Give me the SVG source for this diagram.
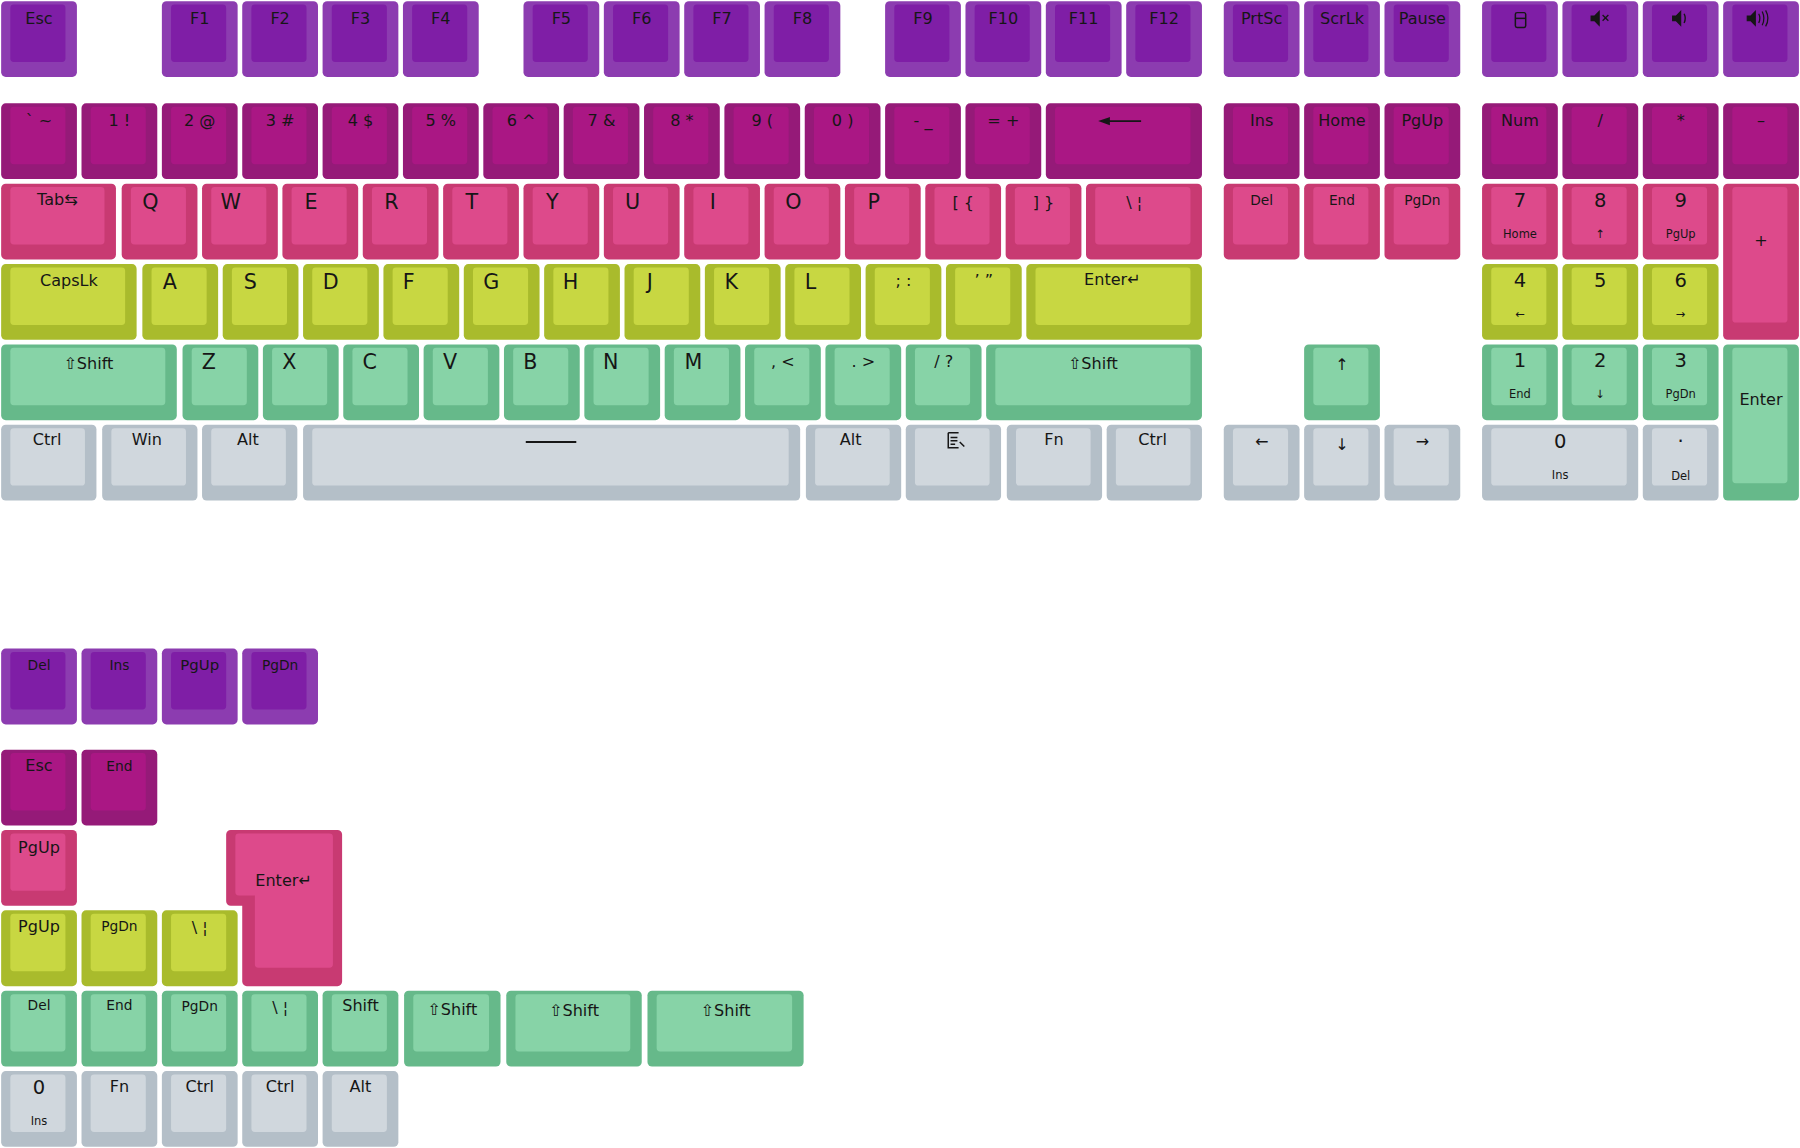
<svg xmlns="http://www.w3.org/2000/svg" width="1800" height="1148" viewBox="0 0 1800 1148">
<style>
.p .o{fill:#8c3cb0}.p .i{fill:#7f1ea6}
.m .o{fill:#951a78}.m .i{fill:#aa1784}
.k .o{fill:#c83a72}.k .i{fill:#dd4a8b}
.y .o{fill:#a9bb2c}.y .i{fill:#c8d742}
.g .o{fill:#66b98a}.g .i{fill:#87d3a7}
.s .o{fill:#b4bfc8}.s .i{fill:#d0d7dd}
text{font-family:"DejaVu Sans","Liberation Sans",sans-serif;fill:#161616;text-anchor:middle}
.t{font-size:14px}.L{font-size:18px}.n{font-size:17px}.u{font-size:10px}
.ic{fill:#161616;stroke:#161616}
.ln{fill:none;stroke:#161616}
</style>
<rect width="1800" height="1148" fill="#fff"/>
<g transform="scale(1.148)">
<g id="keys">
<g id="k-esc" class="p"><rect class="o" x="1" y="1" width="66" height="66" rx="4"/><rect class="i" x="9" y="4" width="48" height="50" rx="3"/><text class="t" x="34" y="21">Esc</text></g>
<g id="k-f1" class="p"><rect class="o" x="141" y="1" width="66" height="66" rx="4"/><rect class="i" x="149" y="4" width="48" height="50" rx="3"/><text class="t" x="174" y="21">F1</text></g>
<g id="k-f2" class="p"><rect class="o" x="211" y="1" width="66" height="66" rx="4"/><rect class="i" x="219" y="4" width="48" height="50" rx="3"/><text class="t" x="244" y="21">F2</text></g>
<g id="k-f3" class="p"><rect class="o" x="281" y="1" width="66" height="66" rx="4"/><rect class="i" x="289" y="4" width="48" height="50" rx="3"/><text class="t" x="314" y="21">F3</text></g>
<g id="k-f4" class="p"><rect class="o" x="351" y="1" width="66" height="66" rx="4"/><rect class="i" x="359" y="4" width="48" height="50" rx="3"/><text class="t" x="384" y="21">F4</text></g>
<g id="k-f5" class="p"><rect class="o" x="456" y="1" width="66" height="66" rx="4"/><rect class="i" x="464" y="4" width="48" height="50" rx="3"/><text class="t" x="489" y="21">F5</text></g>
<g id="k-f6" class="p"><rect class="o" x="526" y="1" width="66" height="66" rx="4"/><rect class="i" x="534" y="4" width="48" height="50" rx="3"/><text class="t" x="559" y="21">F6</text></g>
<g id="k-f7" class="p"><rect class="o" x="596" y="1" width="66" height="66" rx="4"/><rect class="i" x="604" y="4" width="48" height="50" rx="3"/><text class="t" x="629" y="21">F7</text></g>
<g id="k-f8" class="p"><rect class="o" x="666" y="1" width="66" height="66" rx="4"/><rect class="i" x="674" y="4" width="48" height="50" rx="3"/><text class="t" x="699" y="21">F8</text></g>
<g id="k-f9" class="p"><rect class="o" x="771" y="1" width="66" height="66" rx="4"/><rect class="i" x="779" y="4" width="48" height="50" rx="3"/><text class="t" x="804" y="21">F9</text></g>
<g id="k-f10" class="p"><rect class="o" x="841" y="1" width="66" height="66" rx="4"/><rect class="i" x="849" y="4" width="48" height="50" rx="3"/><text class="t" x="874" y="21">F10</text></g>
<g id="k-f11" class="p"><rect class="o" x="911" y="1" width="66" height="66" rx="4"/><rect class="i" x="919" y="4" width="48" height="50" rx="3"/><text class="t" x="944" y="21">F11</text></g>
<g id="k-f12" class="p"><rect class="o" x="981" y="1" width="66" height="66" rx="4"/><rect class="i" x="989" y="4" width="48" height="50" rx="3"/><text class="t" x="1014" y="21">F12</text></g>
<g id="k-prtsc" class="p"><rect class="o" x="1066" y="1" width="66" height="66" rx="4"/><rect class="i" x="1074" y="4" width="48" height="50" rx="3"/><text class="t" x="1099" y="21">PrtSc</text></g>
<g id="k-scrlk" class="p"><rect class="o" x="1136" y="1" width="66" height="66" rx="4"/><rect class="i" x="1144" y="4" width="48" height="50" rx="3"/><text class="t" x="1169" y="21">ScrLk</text></g>
<g id="k-pause" class="p"><rect class="o" x="1206" y="1" width="66" height="66" rx="4"/><rect class="i" x="1214" y="4" width="48" height="50" rx="3"/><text class="t" x="1239" y="21">Pause</text></g>
<g id="k-calc" class="p"><rect class="o" x="1291" y="1" width="66" height="66" rx="4"/><rect class="i" x="1299" y="4" width="48" height="50" rx="3"/><rect class="ln" x="1320" y="11" width="9" height="13" rx="1.5" stroke-width="1.3"/><line class="ln" x1="1320" y1="16" x2="1329" y2="16" stroke-width="1.3"/></g>
<g id="k-mute" class="p"><rect class="o" x="1361" y="1" width="66" height="66" rx="4"/><rect class="i" x="1369" y="4" width="48" height="50" rx="3"/><path class="ic" d="M1386 14h3l4-4v12l-4-4h-3z" stroke="none"/><path class="ln" d="M1396 13l5 5M1401 13l-5 5" stroke-width="1.2"/></g>
<g id="k-vold" class="p"><rect class="o" x="1431" y="1" width="66" height="66" rx="4"/><rect class="i" x="1439" y="4" width="48" height="50" rx="3"/><path class="ic" d="M1457 14h3l4-4v12l-4-4h-3z" stroke="none"/><path class="ln" d="M1467 12q2 4 0 8" stroke-width="1.2"/></g>
<g id="k-volu" class="p"><rect class="o" x="1501" y="1" width="66" height="66" rx="4"/><rect class="i" x="1509" y="4" width="48" height="50" rx="3"/><path class="ic" d="M1522 14h3l4-4v12l-4-4h-3z" stroke="none"/><path class="ln" d="M1532 12q2 4 0 8M1535 10q3 6 0 12M1538 9q4 7 0 14" stroke-width="1.1"/></g>
<g id="k-grave" class="m"><rect class="o" x="1" y="90" width="66" height="66" rx="4"/><rect class="i" x="9" y="93" width="48" height="50" rx="3"/><text class="t" x="34" y="110">` ~</text></g>
<g id="k-1" class="m"><rect class="o" x="71" y="90" width="66" height="66" rx="4"/><rect class="i" x="79" y="93" width="48" height="50" rx="3"/><text class="t" x="104" y="110">1 !</text></g>
<g id="k-2" class="m"><rect class="o" x="141" y="90" width="66" height="66" rx="4"/><rect class="i" x="149" y="93" width="48" height="50" rx="3"/><text class="t" x="174" y="110">2 @</text></g>
<g id="k-3" class="m"><rect class="o" x="211" y="90" width="66" height="66" rx="4"/><rect class="i" x="219" y="93" width="48" height="50" rx="3"/><text class="t" x="244" y="110">3 #</text></g>
<g id="k-4" class="m"><rect class="o" x="281" y="90" width="66" height="66" rx="4"/><rect class="i" x="289" y="93" width="48" height="50" rx="3"/><text class="t" x="314" y="110">4 $</text></g>
<g id="k-5" class="m"><rect class="o" x="351" y="90" width="66" height="66" rx="4"/><rect class="i" x="359" y="93" width="48" height="50" rx="3"/><text class="t" x="384" y="110">5 %</text></g>
<g id="k-6" class="m"><rect class="o" x="421" y="90" width="66" height="66" rx="4"/><rect class="i" x="429" y="93" width="48" height="50" rx="3"/><text class="t" x="454" y="110">6 ^</text></g>
<g id="k-7" class="m"><rect class="o" x="491" y="90" width="66" height="66" rx="4"/><rect class="i" x="499" y="93" width="48" height="50" rx="3"/><text class="t" x="524" y="110">7 &amp;</text></g>
<g id="k-8" class="m"><rect class="o" x="561" y="90" width="66" height="66" rx="4"/><rect class="i" x="569" y="93" width="48" height="50" rx="3"/><text class="t" x="594" y="110">8 *</text></g>
<g id="k-9" class="m"><rect class="o" x="631" y="90" width="66" height="66" rx="4"/><rect class="i" x="639" y="93" width="48" height="50" rx="3"/><text class="t" x="664" y="110">9 (</text></g>
<g id="k-0" class="m"><rect class="o" x="701" y="90" width="66" height="66" rx="4"/><rect class="i" x="709" y="93" width="48" height="50" rx="3"/><text class="t" x="734" y="110">0 )</text></g>
<g id="k-minus" class="m"><rect class="o" x="771" y="90" width="66" height="66" rx="4"/><rect class="i" x="779" y="93" width="48" height="50" rx="3"/><text class="t" x="804" y="110">- _</text></g>
<g id="k-eq" class="m"><rect class="o" x="841" y="90" width="66" height="66" rx="4"/><rect class="i" x="849" y="93" width="48" height="50" rx="3"/><text class="t" x="874" y="110">= +</text></g>
<g id="k-bksp" class="m"><rect class="o" x="911" y="90" width="136" height="66" rx="4"/><rect class="i" x="919" y="93" width="118" height="50" rx="3"/><path class="ic" d="M966 103l-7 2.5 7 2.5zM964 105.5h30" stroke-width="1.6"/></g>
<g id="k-ins" class="m"><rect class="o" x="1066" y="90" width="66" height="66" rx="4"/><rect class="i" x="1074" y="93" width="48" height="50" rx="3"/><text class="t" x="1099" y="110">Ins</text></g>
<g id="k-home" class="m"><rect class="o" x="1136" y="90" width="66" height="66" rx="4"/><rect class="i" x="1144" y="93" width="48" height="50" rx="3"/><text class="t" x="1169" y="110">Home</text></g>
<g id="k-pgup" class="m"><rect class="o" x="1206" y="90" width="66" height="66" rx="4"/><rect class="i" x="1214" y="93" width="48" height="50" rx="3"/><text class="t" x="1239" y="110">PgUp</text></g>
<g id="k-num" class="m"><rect class="o" x="1291" y="90" width="66" height="66" rx="4"/><rect class="i" x="1299" y="93" width="48" height="50" rx="3"/><text class="t" x="1324" y="110">Num</text></g>
<g id="k-div" class="m"><rect class="o" x="1361" y="90" width="66" height="66" rx="4"/><rect class="i" x="1369" y="93" width="48" height="50" rx="3"/><text class="t" x="1394" y="110">/</text></g>
<g id="k-mul" class="m"><rect class="o" x="1431" y="90" width="66" height="66" rx="4"/><rect class="i" x="1439" y="93" width="48" height="50" rx="3"/><text class="t" x="1464" y="110">*</text></g>
<g id="k-sub" class="m"><rect class="o" x="1501" y="90" width="66" height="66" rx="4"/><rect class="i" x="1509" y="93" width="48" height="50" rx="3"/><text class="t" x="1534" y="110">–</text></g>
<g id="k-tab" class="k"><rect class="o" x="1" y="160" width="100" height="66" rx="4"/><rect class="i" x="9" y="163" width="82" height="50" rx="3"/><text class="t" x="50" y="179">Tab⇆</text></g>
<g id="k-q" class="k"><rect class="o" x="106" y="160" width="66" height="66" rx="4"/><rect class="i" x="114" y="163" width="48" height="50" rx="3"/><text class="L" x="131" y="182">Q</text></g>
<g id="k-w" class="k"><rect class="o" x="176" y="160" width="66" height="66" rx="4"/><rect class="i" x="184" y="163" width="48" height="50" rx="3"/><text class="L" x="201" y="182">W</text></g>
<g id="k-e" class="k"><rect class="o" x="246" y="160" width="66" height="66" rx="4"/><rect class="i" x="254" y="163" width="48" height="50" rx="3"/><text class="L" x="271" y="182">E</text></g>
<g id="k-r" class="k"><rect class="o" x="316" y="160" width="66" height="66" rx="4"/><rect class="i" x="324" y="163" width="48" height="50" rx="3"/><text class="L" x="341" y="182">R</text></g>
<g id="k-t" class="k"><rect class="o" x="386" y="160" width="66" height="66" rx="4"/><rect class="i" x="394" y="163" width="48" height="50" rx="3"/><text class="L" x="411" y="182">T</text></g>
<g id="k-y" class="k"><rect class="o" x="456" y="160" width="66" height="66" rx="4"/><rect class="i" x="464" y="163" width="48" height="50" rx="3"/><text class="L" x="481" y="182">Y</text></g>
<g id="k-u" class="k"><rect class="o" x="526" y="160" width="66" height="66" rx="4"/><rect class="i" x="534" y="163" width="48" height="50" rx="3"/><text class="L" x="551" y="182">U</text></g>
<g id="k-i" class="k"><rect class="o" x="596" y="160" width="66" height="66" rx="4"/><rect class="i" x="604" y="163" width="48" height="50" rx="3"/><text class="L" x="621" y="182">I</text></g>
<g id="k-o" class="k"><rect class="o" x="666" y="160" width="66" height="66" rx="4"/><rect class="i" x="674" y="163" width="48" height="50" rx="3"/><text class="L" x="691" y="182">O</text></g>
<g id="k-p" class="k"><rect class="o" x="736" y="160" width="66" height="66" rx="4"/><rect class="i" x="744" y="163" width="48" height="50" rx="3"/><text class="L" x="761" y="182">P</text></g>
<g id="k-lb" class="k"><rect class="o" x="806" y="160" width="66" height="66" rx="4"/><rect class="i" x="814" y="163" width="48" height="50" rx="3"/><text class="t" x="839" y="181">[ {</text></g>
<g id="k-rb" class="k"><rect class="o" x="876" y="160" width="66" height="66" rx="4"/><rect class="i" x="884" y="163" width="48" height="50" rx="3"/><text class="t" x="909" y="181">] }</text></g>
<g id="k-bsl" class="k"><rect class="o" x="946" y="160" width="101" height="66" rx="4"/><rect class="i" x="954" y="163" width="83" height="50" rx="3"/><text class="t" x="988" y="181">\ ¦</text></g>
<g id="k-del" class="k"><rect class="o" x="1066" y="160" width="66" height="66" rx="4"/><rect class="i" x="1074" y="163" width="48" height="50" rx="3"/><text class="t" x="1099" y="179" style="font-size:12px">Del</text></g>
<g id="k-end" class="k"><rect class="o" x="1136" y="160" width="66" height="66" rx="4"/><rect class="i" x="1144" y="163" width="48" height="50" rx="3"/><text class="t" x="1169" y="179" style="font-size:12px">End</text></g>
<g id="k-pgdn" class="k"><rect class="o" x="1206" y="160" width="66" height="66" rx="4"/><rect class="i" x="1214" y="163" width="48" height="50" rx="3"/><text class="t" x="1239" y="179" style="font-size:12px">PgDn</text></g>
<g id="k-n7" class="k"><rect class="o" x="1291" y="160" width="66" height="66" rx="4"/><rect class="i" x="1299" y="163" width="48" height="50" rx="3"/><text class="n" x="1324" y="180">7</text><text class="u" x="1324" y="207">Home</text></g>
<g id="k-n8" class="k"><rect class="o" x="1361" y="160" width="66" height="66" rx="4"/><rect class="i" x="1369" y="163" width="48" height="50" rx="3"/><text class="n" x="1394" y="180">8</text><text class="u" x="1394" y="207">↑</text></g>
<g id="k-n9" class="k"><rect class="o" x="1431" y="160" width="66" height="66" rx="4"/><rect class="i" x="1439" y="163" width="48" height="50" rx="3"/><text class="n" x="1464" y="180">9</text><text class="u" x="1464" y="207">PgUp</text></g>
<g id="k-plus" class="k"><rect class="o" x="1501" y="160" width="66" height="136" rx="4"/><rect class="i" x="1509" y="163" width="48" height="118" rx="3"/><text class="t" x="1534" y="214">+</text></g>
<g id="k-caps" class="y"><rect class="o" x="1" y="230" width="118" height="66" rx="4"/><rect class="i" x="9" y="233" width="100" height="50" rx="3"/><text class="t" x="60" y="249">CapsLk</text></g>
<g id="k-a" class="y"><rect class="o" x="124" y="230" width="66" height="66" rx="4"/><rect class="i" x="132" y="233" width="48" height="50" rx="3"/><text class="L" x="148" y="252">A</text></g>
<g id="k-s" class="y"><rect class="o" x="194" y="230" width="66" height="66" rx="4"/><rect class="i" x="202" y="233" width="48" height="50" rx="3"/><text class="L" x="218" y="252">S</text></g>
<g id="k-d" class="y"><rect class="o" x="264" y="230" width="66" height="66" rx="4"/><rect class="i" x="272" y="233" width="48" height="50" rx="3"/><text class="L" x="288" y="252">D</text></g>
<g id="k-f" class="y"><rect class="o" x="334" y="230" width="66" height="66" rx="4"/><rect class="i" x="342" y="233" width="48" height="50" rx="3"/><text class="L" x="356" y="252">F</text></g>
<g id="k-g" class="y"><rect class="o" x="404" y="230" width="66" height="66" rx="4"/><rect class="i" x="412" y="233" width="48" height="50" rx="3"/><text class="L" x="428" y="252">G</text></g>
<g id="k-h" class="y"><rect class="o" x="474" y="230" width="66" height="66" rx="4"/><rect class="i" x="482" y="233" width="48" height="50" rx="3"/><text class="L" x="497" y="252">H</text></g>
<g id="k-j" class="y"><rect class="o" x="544" y="230" width="66" height="66" rx="4"/><rect class="i" x="552" y="233" width="48" height="50" rx="3"/><text class="L" x="566" y="252">J</text></g>
<g id="k-k" class="y"><rect class="o" x="614" y="230" width="66" height="66" rx="4"/><rect class="i" x="622" y="233" width="48" height="50" rx="3"/><text class="L" x="637" y="252">K</text></g>
<g id="k-l" class="y"><rect class="o" x="684" y="230" width="66" height="66" rx="4"/><rect class="i" x="692" y="233" width="48" height="50" rx="3"/><text class="L" x="706" y="252">L</text></g>
<g id="k-semi" class="y"><rect class="o" x="754" y="230" width="66" height="66" rx="4"/><rect class="i" x="762" y="233" width="48" height="50" rx="3"/><text class="t" x="787" y="249">; :</text></g>
<g id="k-quote" class="y"><rect class="o" x="824" y="230" width="66" height="66" rx="4"/><rect class="i" x="832" y="233" width="48" height="50" rx="3"/><text class="t" x="857" y="249">’ ”</text></g>
<g id="k-enter" class="y"><rect class="o" x="894" y="230" width="153" height="66" rx="4"/><rect class="i" x="902" y="233" width="135" height="50" rx="3"/><text class="t" x="969" y="248">Enter↵</text></g>
<g id="k-n4" class="y"><rect class="o" x="1291" y="230" width="66" height="66" rx="4"/><rect class="i" x="1299" y="233" width="48" height="50" rx="3"/><text class="n" x="1324" y="250">4</text><text class="u" x="1324" y="277">←</text></g>
<g id="k-n5" class="y"><rect class="o" x="1361" y="230" width="66" height="66" rx="4"/><rect class="i" x="1369" y="233" width="48" height="50" rx="3"/><text class="n" x="1394" y="250">5</text></g>
<g id="k-n6" class="y"><rect class="o" x="1431" y="230" width="66" height="66" rx="4"/><rect class="i" x="1439" y="233" width="48" height="50" rx="3"/><text class="n" x="1464" y="250">6</text><text class="u" x="1464" y="277">→</text></g>
<g id="k-lshift" class="g"><rect class="o" x="1" y="300" width="153" height="66" rx="4"/><rect class="i" x="9" y="303" width="135" height="50" rx="3"/><text class="t" x="77" y="321">⇧Shift</text></g>
<g id="k-z" class="g"><rect class="o" x="159" y="300" width="66" height="66" rx="4"/><rect class="i" x="167" y="303" width="48" height="50" rx="3"/><text class="L" x="182" y="321">Z</text></g>
<g id="k-x" class="g"><rect class="o" x="229" y="300" width="66" height="66" rx="4"/><rect class="i" x="237" y="303" width="48" height="50" rx="3"/><text class="L" x="252" y="321">X</text></g>
<g id="k-c" class="g"><rect class="o" x="299" y="300" width="66" height="66" rx="4"/><rect class="i" x="307" y="303" width="48" height="50" rx="3"/><text class="L" x="322" y="321">C</text></g>
<g id="k-v" class="g"><rect class="o" x="369" y="300" width="66" height="66" rx="4"/><rect class="i" x="377" y="303" width="48" height="50" rx="3"/><text class="L" x="392" y="321">V</text></g>
<g id="k-b" class="g"><rect class="o" x="439" y="300" width="66" height="66" rx="4"/><rect class="i" x="447" y="303" width="48" height="50" rx="3"/><text class="L" x="462" y="321">B</text></g>
<g id="k-n" class="g"><rect class="o" x="509" y="300" width="66" height="66" rx="4"/><rect class="i" x="517" y="303" width="48" height="50" rx="3"/><text class="L" x="532" y="321">N</text></g>
<g id="k-m" class="g"><rect class="o" x="579" y="300" width="66" height="66" rx="4"/><rect class="i" x="587" y="303" width="48" height="50" rx="3"/><text class="L" x="604" y="321">M</text></g>
<g id="k-comma" class="g"><rect class="o" x="649" y="300" width="66" height="66" rx="4"/><rect class="i" x="657" y="303" width="48" height="50" rx="3"/><text class="t" x="682" y="320">, &lt;</text></g>
<g id="k-dot" class="g"><rect class="o" x="719" y="300" width="66" height="66" rx="4"/><rect class="i" x="727" y="303" width="48" height="50" rx="3"/><text class="t" x="752" y="320">. &gt;</text></g>
<g id="k-slash" class="g"><rect class="o" x="789" y="300" width="66" height="66" rx="4"/><rect class="i" x="797" y="303" width="48" height="50" rx="3"/><text class="t" x="822" y="320">/ ?</text></g>
<g id="k-rshift" class="g"><rect class="o" x="859" y="300" width="188" height="66" rx="4"/><rect class="i" x="867" y="303" width="170" height="50" rx="3"/><text class="t" x="952" y="321">⇧Shift</text></g>
<g id="k-up" class="g"><rect class="o" x="1136" y="300" width="66" height="66" rx="4"/><rect class="i" x="1144" y="303" width="48" height="50" rx="3"/><text class="t" x="1169" y="322">↑</text></g>
<g id="k-n1" class="g"><rect class="o" x="1291" y="300" width="66" height="66" rx="4"/><rect class="i" x="1299" y="303" width="48" height="50" rx="3"/><text class="n" x="1324" y="320">1</text><text class="u" x="1324" y="347">End</text></g>
<g id="k-n2" class="g"><rect class="o" x="1361" y="300" width="66" height="66" rx="4"/><rect class="i" x="1369" y="303" width="48" height="50" rx="3"/><text class="n" x="1394" y="320">2</text><text class="u" x="1394" y="347">↓</text></g>
<g id="k-n3" class="g"><rect class="o" x="1431" y="300" width="66" height="66" rx="4"/><rect class="i" x="1439" y="303" width="48" height="50" rx="3"/><text class="n" x="1464" y="320">3</text><text class="u" x="1464" y="347">PgDn</text></g>
<g id="k-nenter" class="g"><rect class="o" x="1501" y="300" width="66" height="136" rx="4"/><rect class="i" x="1509" y="303" width="48" height="118" rx="3"/><text class="t" x="1534" y="353">Enter</text></g>
<g id="k-lctrl" class="s"><rect class="o" x="1" y="370" width="83" height="66" rx="4"/><rect class="i" x="9" y="373" width="65" height="50" rx="3"/><text class="t" x="41" y="388">Ctrl</text></g>
<g id="k-win" class="s"><rect class="o" x="89" y="370" width="83" height="66" rx="4"/><rect class="i" x="97" y="373" width="65" height="50" rx="3"/><text class="t" x="128" y="388">Win</text></g>
<g id="k-lalt" class="s"><rect class="o" x="176" y="370" width="83" height="66" rx="4"/><rect class="i" x="184" y="373" width="65" height="50" rx="3"/><text class="t" x="216" y="388">Alt</text></g>
<g id="k-space" class="s"><rect class="o" x="264" y="370" width="433" height="66" rx="4"/><rect class="i" x="272" y="373" width="415" height="50" rx="3"/><line class="ln" x1="458" y1="385" x2="502" y2="385" stroke-width="1.6"/></g>
<g id="k-ralt" class="s"><rect class="o" x="702" y="370" width="83" height="66" rx="4"/><rect class="i" x="710" y="373" width="65" height="50" rx="3"/><text class="t" x="741" y="388">Alt</text></g>
<g id="k-menu" class="s"><rect class="o" x="789" y="370" width="83" height="66" rx="4"/><rect class="i" x="797" y="373" width="65" height="50" rx="3"/><path class="ln" d="M826 377v13h9M826 377h9M828 381h6M828 384h6M828 387h4M836 385l4 4" stroke-width="1.3"/></g>
<g id="k-fn" class="s"><rect class="o" x="877" y="370" width="83" height="66" rx="4"/><rect class="i" x="885" y="373" width="65" height="50" rx="3"/><text class="t" x="918" y="388">Fn</text></g>
<g id="k-rctrl" class="s"><rect class="o" x="964" y="370" width="83" height="66" rx="4"/><rect class="i" x="972" y="373" width="65" height="50" rx="3"/><text class="t" x="1004" y="388">Ctrl</text></g>
<g id="k-left" class="s"><rect class="o" x="1066" y="370" width="66" height="66" rx="4"/><rect class="i" x="1074" y="373" width="48" height="50" rx="3"/><text class="t" x="1099" y="389">←</text></g>
<g id="k-down" class="s"><rect class="o" x="1136" y="370" width="66" height="66" rx="4"/><rect class="i" x="1144" y="373" width="48" height="50" rx="3"/><text class="t" x="1169" y="392">↓</text></g>
<g id="k-right" class="s"><rect class="o" x="1206" y="370" width="66" height="66" rx="4"/><rect class="i" x="1214" y="373" width="48" height="50" rx="3"/><text class="t" x="1239" y="389">→</text></g>
<g id="k-n0" class="s"><rect class="o" x="1291" y="370" width="136" height="66" rx="4"/><rect class="i" x="1299" y="373" width="118" height="50" rx="3"/><text class="n" x="1359" y="390">0</text><text class="u" x="1359" y="417">Ins</text></g>
<g id="k-ndot" class="s"><rect class="o" x="1431" y="370" width="66" height="66" rx="4"/><rect class="i" x="1439" y="373" width="48" height="50" rx="3"/><text class="n" x="1464" y="390">·</text><text class="u" x="1464" y="418">Del</text></g>
<g id="x-del" class="p"><rect class="o" x="1" y="565" width="66" height="66" rx="4"/><rect class="i" x="9" y="568" width="48" height="50" rx="3"/><text class="t" x="34" y="584" style="font-size:12px">Del</text></g>
<g id="x-ins" class="p"><rect class="o" x="71" y="565" width="66" height="66" rx="4"/><rect class="i" x="79" y="568" width="48" height="50" rx="3"/><text class="t" x="104" y="584" style="font-size:12px">Ins</text></g>
<g id="x-pgup" class="p"><rect class="o" x="141" y="565" width="66" height="66" rx="4"/><rect class="i" x="149" y="568" width="48" height="50" rx="3"/><text class="t" x="174" y="584" style="font-size:13px">PgUp</text></g>
<g id="x-pgdn" class="p"><rect class="o" x="211" y="565" width="66" height="66" rx="4"/><rect class="i" x="219" y="568" width="48" height="50" rx="3"/><text class="t" x="244" y="584" style="font-size:12px">PgDn</text></g>
<g id="x-esc" class="m"><rect class="o" x="1" y="653" width="66" height="66" rx="4"/><rect class="i" x="9" y="656" width="48" height="50" rx="3"/><text class="t" x="34" y="672">Esc</text></g>
<g id="x-end" class="m"><rect class="o" x="71" y="653" width="66" height="66" rx="4"/><rect class="i" x="79" y="656" width="48" height="50" rx="3"/><text class="t" x="104" y="672" style="font-size:12px">End</text></g>
<g id="x-pgup2" class="k"><rect class="o" x="1" y="723" width="66" height="66" rx="4"/><rect class="i" x="9" y="726" width="48" height="50" rx="3"/><text class="t" x="34" y="743">PgUp</text></g>
<g id="x-isoenter" class="k"><path class="o" d="M201 723h93a4 4 0 0 1 4 4v128a4 4 0 0 1-4 4h-79a4 4 0 0 1-4-4v-66h-10a4 4 0 0 1-4-4v-58a4 4 0 0 1 4-4z"/><path class="i" d="M208 726h79a3 3 0 0 1 3 3v111a3 3 0 0 1-3 3h-62a3 3 0 0 1-3-3v-60h-14a3 3 0 0 1-3-3v-48a3 3 0 0 1 3-3z"/><text class="t" x="247" y="772">Enter↵</text></g>
<g id="x-pgup3" class="y"><rect class="o" x="1" y="793" width="66" height="66" rx="4"/><rect class="i" x="9" y="796" width="48" height="50" rx="3"/><text class="t" x="34" y="812">PgUp</text></g>
<g id="x-pgdn3" class="y"><rect class="o" x="71" y="793" width="66" height="66" rx="4"/><rect class="i" x="79" y="796" width="48" height="50" rx="3"/><text class="t" x="104" y="811" style="font-size:12px">PgDn</text></g>
<g id="x-bsl3" class="y"><rect class="o" x="141" y="793" width="66" height="66" rx="4"/><rect class="i" x="149" y="796" width="48" height="50" rx="3"/><text class="t" x="174" y="813">\ ¦</text></g>
<g id="x-del4" class="g"><rect class="o" x="1" y="863" width="66" height="66" rx="4"/><rect class="i" x="9" y="866" width="48" height="50" rx="3"/><text class="t" x="34" y="880" style="font-size:12px">Del</text></g>
<g id="x-end4" class="g"><rect class="o" x="71" y="863" width="66" height="66" rx="4"/><rect class="i" x="79" y="866" width="48" height="50" rx="3"/><text class="t" x="104" y="880" style="font-size:12px">End</text></g>
<g id="x-pgdn4" class="g"><rect class="o" x="141" y="863" width="66" height="66" rx="4"/><rect class="i" x="149" y="866" width="48" height="50" rx="3"/><text class="t" x="174" y="881" style="font-size:12px">PgDn</text></g>
<g id="x-bsl4" class="g"><rect class="o" x="211" y="863" width="66" height="66" rx="4"/><rect class="i" x="219" y="866" width="48" height="50" rx="3"/><text class="t" x="244" y="882">\ ¦</text></g>
<g id="x-shift1" class="g"><rect class="o" x="281" y="863" width="66" height="66" rx="4"/><rect class="i" x="289" y="866" width="48" height="50" rx="3"/><text class="t" x="314" y="881">Shift</text></g>
<g id="x-shift2" class="g"><rect class="o" x="352" y="863" width="84" height="66" rx="4"/><rect class="i" x="360" y="866" width="66" height="50" rx="3"/><text class="t" x="394" y="884">⇧Shift</text></g>
<g id="x-shift3" class="g"><rect class="o" x="441" y="863" width="118" height="66" rx="4"/><rect class="i" x="449" y="866" width="100" height="50" rx="3"/><text class="t" x="500" y="885">⇧Shift</text></g>
<g id="x-shift4" class="g"><rect class="o" x="564" y="863" width="136" height="66" rx="4"/><rect class="i" x="572" y="866" width="118" height="50" rx="3"/><text class="t" x="632" y="885">⇧Shift</text></g>
<g id="x-n0" class="s"><rect class="o" x="1" y="933" width="66" height="66" rx="4"/><rect class="i" x="9" y="936" width="48" height="50" rx="3"/><text class="n" x="34" y="953">0</text><text class="u" x="34" y="980">Ins</text></g>
<g id="x-fn" class="s"><rect class="o" x="71" y="933" width="66" height="66" rx="4"/><rect class="i" x="79" y="936" width="48" height="50" rx="3"/><text class="t" x="104" y="951">Fn</text></g>
<g id="x-ctrl1" class="s"><rect class="o" x="141" y="933" width="66" height="66" rx="4"/><rect class="i" x="149" y="936" width="48" height="50" rx="3"/><text class="t" x="174" y="951">Ctrl</text></g>
<g id="x-ctrl2" class="s"><rect class="o" x="211" y="933" width="66" height="66" rx="4"/><rect class="i" x="219" y="936" width="48" height="50" rx="3"/><text class="t" x="244" y="951">Ctrl</text></g>
<g id="x-alt" class="s"><rect class="o" x="281" y="933" width="66" height="66" rx="4"/><rect class="i" x="289" y="936" width="48" height="50" rx="3"/><text class="t" x="314" y="951">Alt</text></g>
</g>
<g id="connectors"/>
</g>
</svg>
